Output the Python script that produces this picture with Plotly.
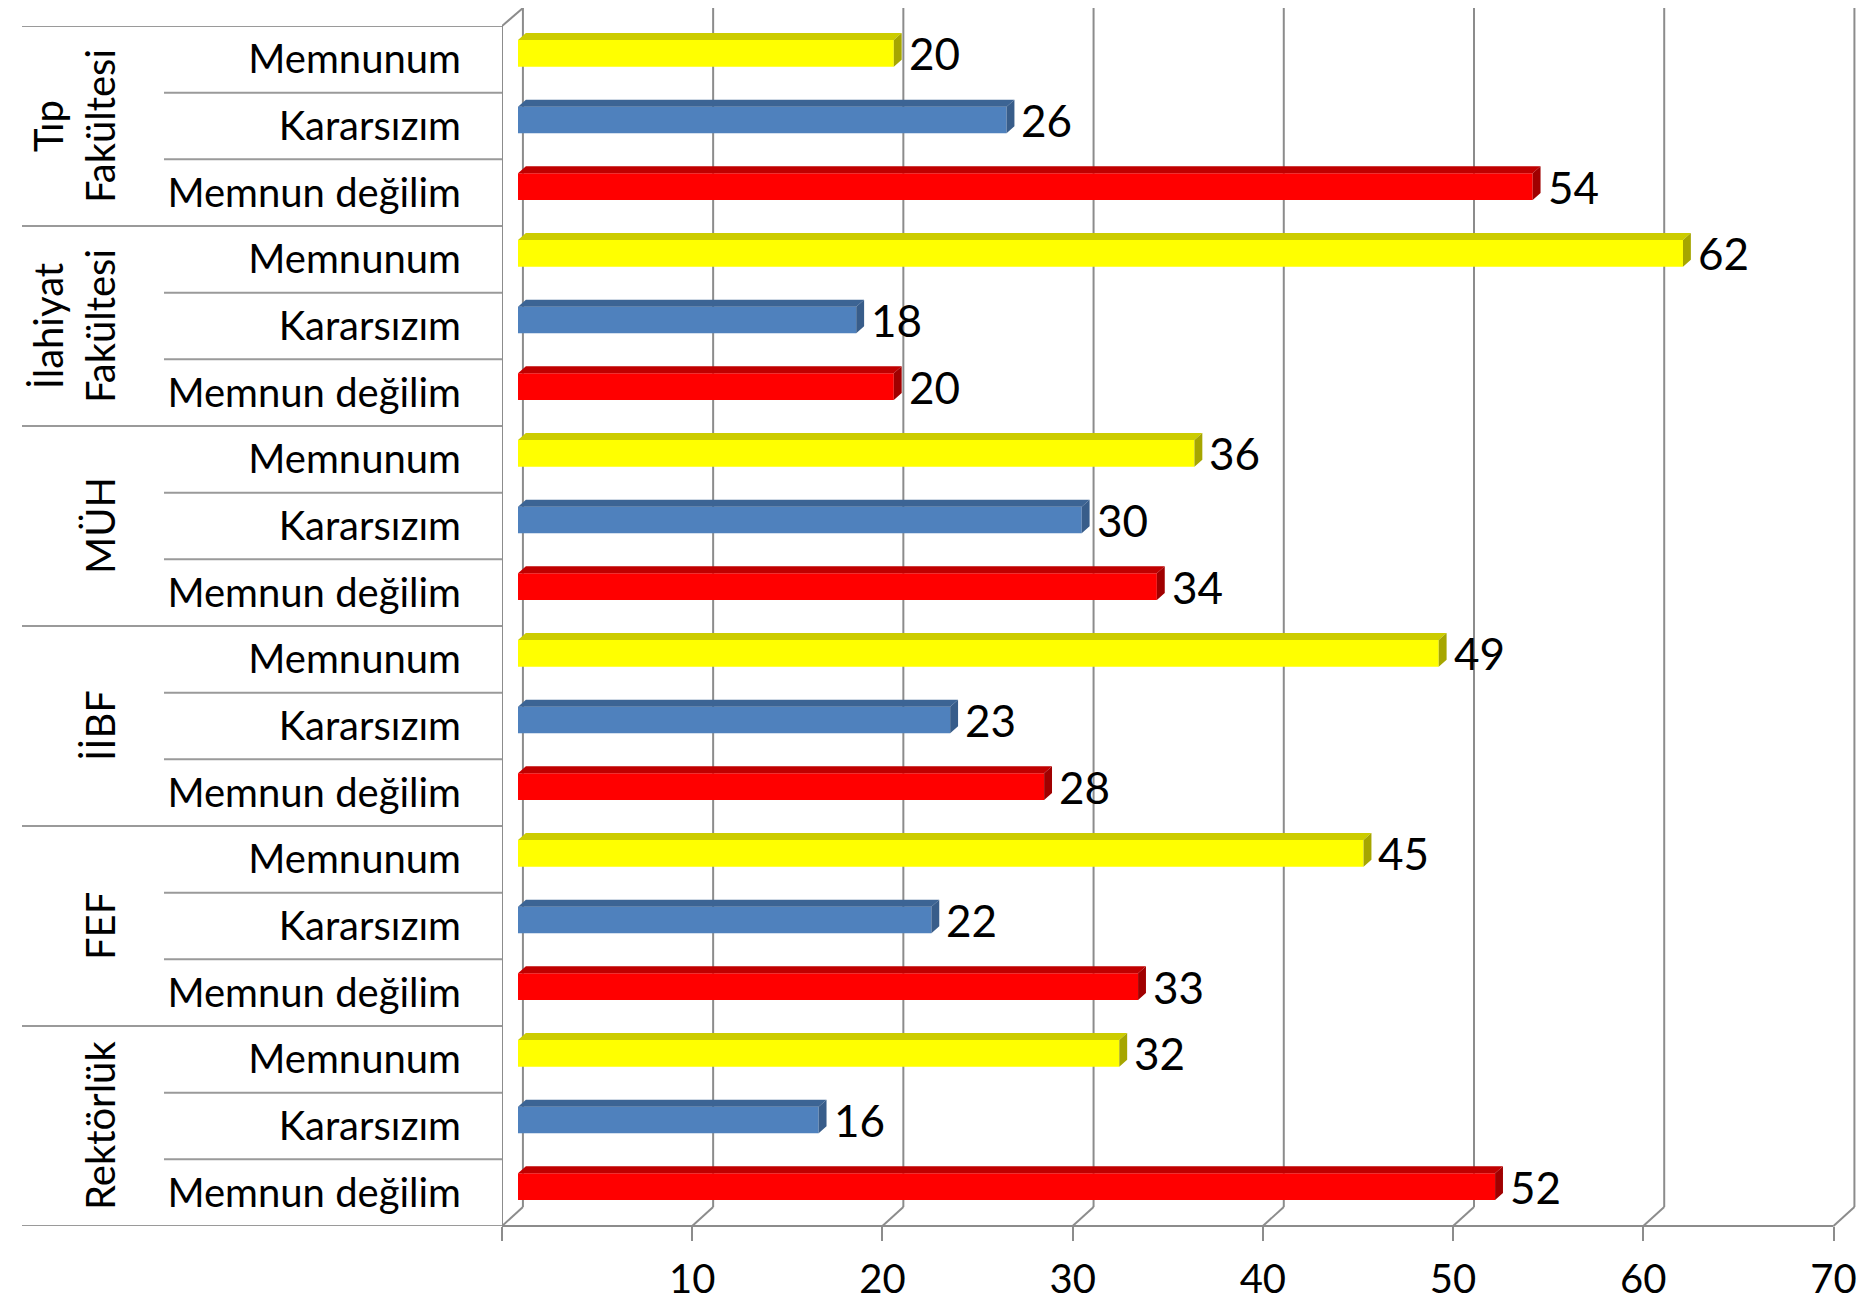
import plotly.graph_objects as go

# ---------------- data ----------------
groups = ["Tıp<br>Fakültesi", "İlahiyat<br>Fakültesi", "MÜH", "İİBF", "FEF", "Rektörlük"]
responses = ["Memnunum", "Kararsızım", "Memnun değilim"]
memnunum = [20, 62, 36, 49, 45, 32]
kararsizim = [26, 18, 30, 23, 22, 16]
memnun_degilim = [54, 20, 34, 28, 33, 52]
x_ticks = [0, 10, 20, 30, 40, 50, 60, 70]
x_ticktext = ["", "10", "20", "30", "40", "50", "60", "70"]

series = [memnunum, kararsizim, memnun_degilim]
front_colors = ["#FFFF00", "#4F81BD", "#FF0000"]
top_colors = ["#CCCC00", "#3C6494", "#C00000"]
side_colors = ["#A6A600", "#385D8A", "#A00000"]

# ---------------- layout constants (reference-window pixels) ----------------
OFF = 8                                  # page body margin
W, H = 1876 - 2 * OFF, 1310 - 2 * OFF
FONT = "Lato"
X_LEFT, X_RIGHT = 502, 1833.5            # front axis pixel extent (0..70)
X_DOM_R = 1866                           # plot domain right edge (room for back wall)
BAR_X0, BAR_PX = 518, 18.79              # bar axis: pixel of 0, pixels per unit
Y_TOP, Y_BOT = 26, 1226                  # category area pixel extent
BACK_TOP = 8                             # top of back wall
BACK_FLOOR = 1207                        # back floor line
DEPTH_AX = 1.1                           # depth shift of back wall, front-axis units
BAR_W, BAR_OFF = 0.4, -0.11
DX, DY = 0.42, 0.105                     # 3D depth of bars (bar-axis / y units)
GRID = "#8C8C8C"
TABLE = "#9A9A9A"

n_g = len(groups)
n_s = len(responses)
n_rows = n_g * n_s
FRONT_PX = (X_RIGHT - X_LEFT) / 70.0


def row_pos(g, s):
    return (n_g - 1 - g) * n_s + (n_s - 1 - s)


def py(px):
    return 1 - (px - OFF) / H


def pxx(px):
    return (px - OFF) / W


fig = go.Figure()

for s, vals in enumerate(series):
    ys = [row_pos(g, s) for g in range(n_g)]
    fig.add_trace(go.Bar(
        x=vals, y=ys, orientation="h", base=0,
        width=BAR_W, offset=BAR_OFF,
        marker=dict(color=front_colors[s], line=dict(width=0)),
        showlegend=False, hoverinfo="x",
    ))
    tx, ty = [], []
    sx, sy = [], []
    for v, y in zip(vals, ys):
        yt = y + BAR_OFF + BAR_W
        yb = y + BAR_OFF
        tx += [0, DX, v + DX, v, 0, None]
        ty += [yt, yt + DY, yt + DY, yt, yt, None]
        sx += [v, v + DX, v + DX, v, v, None]
        sy += [yb, yb + DY, yt + DY, yt, yb, None]
    fig.add_trace(go.Scatter(x=tx, y=ty, mode="lines", fill="toself",
                             fillcolor=top_colors[s], line=dict(width=0),
                             showlegend=False, hoverinfo="skip"))
    fig.add_trace(go.Scatter(x=sx, y=sy, mode="lines", fill="toself",
                             fillcolor=side_colors[s], line=dict(width=0),
                             showlegend=False, hoverinfo="skip"))
    for v, y in zip(vals, ys):
        fig.add_annotation(x=v + DX, y=y + BAR_OFF + BAR_W / 2, xref="x", yref="y",
                           text=str(v), showarrow=False, xanchor="left", yanchor="middle",
                           xshift=5, font=dict(family=FONT, size=44, color="black"))

# invisible trace on x2 so the axis is drawn
fig.add_trace(go.Scatter(x=[0, 70], y=[0, 0], xaxis="x2", yaxis="y", mode="markers",
                         marker=dict(opacity=0), showlegend=False, hoverinfo="skip"))

shapes = []
line = dict(color=GRID, width=2)
for v in x_ticks:
    shapes.append(dict(type="line", xref="x2", yref="paper", x0=v + DEPTH_AX, x1=v + DEPTH_AX,
                       y0=py(BACK_FLOOR), y1=py(BACK_TOP), line=line, layer="below"))
    shapes.append(dict(type="line", xref="x2", yref="paper", x0=v + DEPTH_AX, x1=v,
                       y0=py(BACK_FLOOR), y1=py(Y_BOT), line=line, layer="below"))
# front floor line
shapes.append(dict(type="line", xref="x2", yref="paper", x0=x_ticks[0], x1=x_ticks[-1],
                   y0=py(Y_BOT), y1=py(Y_BOT), line=line, layer="below"))
# front-left wall edge
shapes.append(dict(type="line", xref="x2", yref="paper", x0=0, x1=0, y0=py(Y_BOT), y1=py(Y_TOP),
                   line=line, layer="below"))
shapes.append(dict(type="line", xref="x2", yref="paper", x0=0, x1=DEPTH_AX, y0=py(Y_TOP), y1=py(BACK_TOP),
                   line=line, layer="below"))
# category table lines
for k in range(n_rows + 1):
    yv = k - 0.5
    x0 = 22 if k % n_s == 0 else 164
    shapes.append(dict(type="line", xref="paper", yref="y", x0=pxx(x0), x1=pxx(X_LEFT),
                       y0=yv, y1=yv, line=dict(color=TABLE, width=2), layer="below"))

fig.update_layout(shapes=shapes)

for g, name in enumerate(groups):
    yc = row_pos(g, 1)
    fig.add_annotation(x=pxx(126), y=yc, xref="paper", yref="y", text=name, textangle=-90,
                       showarrow=False, xanchor="right", yanchor="middle",
                       font=dict(family=FONT, size=40, color="black"))

tickvals = [row_pos(g, s) for g in range(n_g) for s in range(n_s)]
ticktext = [responses[s] for g in range(n_g) for s in range(n_s)]

x2_end = (X_DOM_R - X_LEFT) / FRONT_PX
bar_start = (X_LEFT - BAR_X0) / BAR_PX
bar_end = bar_start + (X_DOM_R - X_LEFT) / BAR_PX

fig.update_layout(
    width=W, height=H, autosize=False,
    margin=dict(l=0, r=0, t=0, b=0, pad=0, autoexpand=False),
    paper_bgcolor="white", plot_bgcolor="rgba(0,0,0,0)",
    xaxis=dict(domain=[pxx(X_LEFT), pxx(X_DOM_R)], range=[bar_start, bar_end],
               visible=False, fixedrange=True, automargin=False),
    xaxis2=dict(overlaying="x", anchor="y", side="bottom", range=[0, x2_end],
                tickvals=x_ticks, ticktext=x_ticktext, ticks="outside", ticklen=14,
                tickwidth=2, tickcolor=GRID, showline=False, automargin=False,
                showgrid=False, zeroline=False, ticklabelstandoff=4,
                tickfont=dict(family=FONT, size=40, color="black")),
    yaxis=dict(domain=[py(Y_BOT), py(Y_TOP)], range=[-0.5, n_rows - 0.5],
               tickvals=tickvals, ticktext=ticktext, ticks="", showgrid=False,
               zeroline=False, showline=False, ticklabelstandoff=40, automargin=False,
               tickfont=dict(family=FONT, size=40, color="black")),
    showlegend=False,
)

fig.write_html("out.html")
